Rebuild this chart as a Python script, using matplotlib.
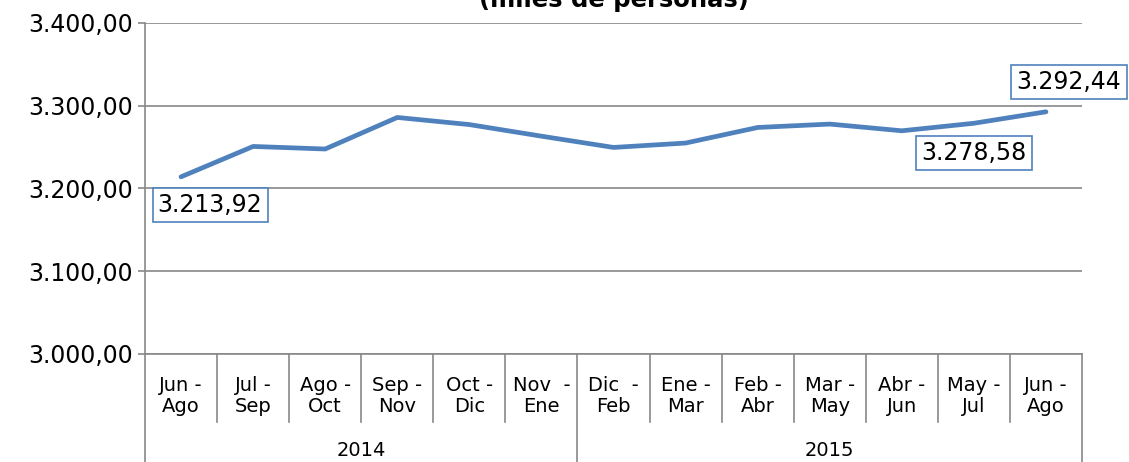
import matplotlib
matplotlib.use("Agg")
import matplotlib.pyplot as plt
from matplotlib.ticker import FuncFormatter, MultipleLocator
import matplotlib.transforms as mtransforms

categories = ["Jun -\nAgo", "Jul -\nSep", "Ago -\nOct", "Sep -\nNov", "Oct -\nDic", "Nov  -\nEne",
              "Dic  -\nFeb", "Ene -\nMar", "Feb -\nAbr", "Mar -\nMay", "Abr -\nJun", "May -\nJul", "Jun -\nAgo"]
years = ["2014", "2015"]
year_counts = [6, 7]
values = [3213.92, 3250.6, 3247.5, 3285.6, 3277.0, 3263.0, 3249.4, 3254.7, 3273.5, 3277.6, 3269.5, 3278.58, 3292.44]
labelled = {0: (29, -28), 11: (0, -30), 12: (23, 30)}

def es_fmt(v, pos=None):
    s = f"{v:,.2f}"
    return s.replace(",", "X").replace(".", ",").replace("X", ".")

fig = plt.figure(figsize=(11.29, 4.62), dpi=100)
ax = fig.add_axes([145/1129, 1-354/462, (1082-145)/1129, (354-22.7)/462])

blue = "#4F81BD"
grid = "#888888"
x = [i + 0.5 for i in range(len(values))]
ax.plot(x, values, color=blue, lw=3.4, solid_capstyle="round", solid_joinstyle="round", zorder=3)

ax.set_xlim(0, len(values))
ax.set_ylim(3000, 3400)
ax.yaxis.set_major_locator(MultipleLocator(100))
ax.yaxis.set_major_formatter(FuncFormatter(es_fmt))
ax.grid(axis="y", color=grid, lw=1.2)
ax.set_axisbelow(True)
for s in ["top", "right"]:
    ax.spines[s].set_visible(False)
for s in ["left", "bottom"]:
    ax.spines[s].set_color(grid)
    ax.spines[s].set_linewidth(1.2)
ax.tick_params(axis="y", length=5, width=1.2, color=grid, labelsize=17, pad=4)
ax.set_xticks([])

# category labels and separators
trans = mtransforms.blended_transform_factory(ax.transData, ax.transAxes)
h = 354 - 22.7
cat_bottom = -(422 - 354) / h
fig_bottom = -(462 - 354) / h
for i, c in enumerate(categories):
    ax.text(i + 0.5, -(396 - 354) / h, c, transform=trans, ha="center", va="center",
            fontsize=14, linespacing=1.1)
boundaries = [0]
for n in year_counts:
    boundaries.append(boundaries[-1] + n)
for i in range(len(values) + 1):
    bottom = fig_bottom if i in boundaries else cat_bottom
    ax.plot([i, i], [0, bottom], transform=trans, color=grid, lw=1.2, clip_on=False)
for k, yname in enumerate(years):
    ax.text((boundaries[k] + boundaries[k + 1]) / 2, -(451 - 354) / h, yname, transform=trans,
            ha="center", va="center", fontsize=14)

# data labels
for i, (dx, dy) in labelled.items():
    ax.annotate(es_fmt(values[i]), (x[i], values[i]), xytext=(dx, dy), textcoords="offset pixels",
                ha="center", va="center", fontsize=17, annotation_clip=False,
                bbox=dict(boxstyle="square,pad=0.22", fc="white", ec=blue, lw=1.2), zorder=4)

fig.text(613.5/1129, 1 - 7/462, "(miles de personas)", ha="center", va="baseline",
         fontsize=17.5, fontweight="bold")

fig.savefig("out.png", dpi=100)
